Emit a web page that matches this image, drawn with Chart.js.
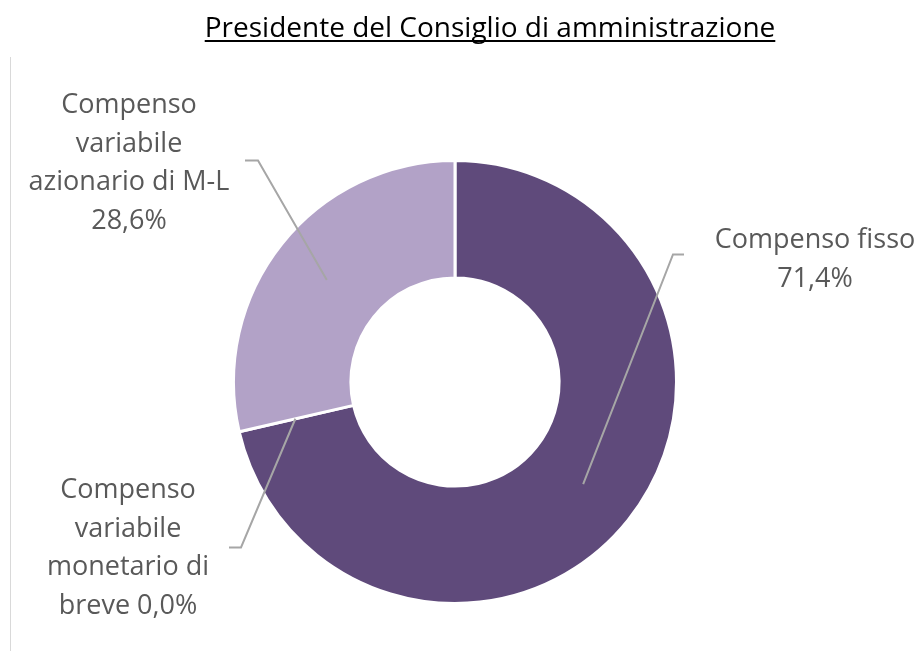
<!DOCTYPE html>
<html>
<head>
<meta charset="utf-8">
<script src="https://cdn.jsdelivr.net/npm/chart.js@4.4.1/dist/chart.umd.min.js"></script>
<style>
  html, body { margin: 0; padding: 0; background: #ffffff; }
  #wrap { width: 923px; height: 651px; position: relative; }
</style>
</head>
<body>
<div id="wrap"><canvas id="c" width="923" height="651"></canvas></div>
<script>
// ---- data ----
const chartTitle = 'Presidente del Consiglio di amministrazione';
const categories = ['Compenso fisso', 'Compenso variabile monetario di breve', 'Compenso variabile azionario di M-L'];
const values = [71.4, 0.0, 28.6];
// label text lines; {p} is replaced by the formatted value
const labelLines = [
  ['Compenso fisso', '{p}'],
  ['Compenso', 'variabile', 'monetario di', 'breve {p}'],
  ['Compenso', 'variabile', 'azionario di M-L', '{p}']
];
const sliceColors = ['#5F4A7B', '#5F4A7B', '#B2A2C7'];

// ---- layout (positions of the data labels and leader elbows) ----
const labelLayout = [
  { cx: 815, y0: 248, elbowX: 673, elbowY: 254.5, endX: 684 },
  { cx: 128, y0: 498, elbowX: 241, elbowY: 547.5, endX: 229 },
  { cx: 129, y0: 113, elbowX: 258, elbowY: 160.5, endX: 245 }
];
const fontFamily = '"Open Sans", "Noto Sans", sans-serif';

function fmt(v) { return v.toFixed(1).replace('.', ',') + '%'; }

const decorPlugin = {
  id: 'decor',
  beforeDraw(chart) {
    const ctx = chart.ctx;
    ctx.save();
    // faint frame line at left
    ctx.strokeStyle = '#D9D9D9';
    ctx.lineWidth = 1;
    ctx.beginPath();
    ctx.moveTo(10.5, 57);
    ctx.lineTo(10.5, 651);
    ctx.stroke();
    // title with underline
    ctx.font = '28px ' + fontFamily;
    ctx.fillStyle = '#000000';
    ctx.textAlign = 'center';
    ctx.textBaseline = 'alphabetic';
    const tx = 490, ty = 37;
    ctx.fillText(chartTitle, tx, ty);
    const w = ctx.measureText(chartTitle).width;
    ctx.fillRect(tx - w / 2, ty + 3, w, 2);
    ctx.restore();
  },
  afterDatasetsDraw(chart) {
    const ctx = chart.ctx;
    const meta = chart.getDatasetMeta(0);
    ctx.save();
    meta.data.forEach((arc, i) => {
      const p = arc.getProps(['x', 'y', 'startAngle', 'endAngle', 'innerRadius', 'outerRadius'], true);
      const mid = (p.startAngle + p.endAngle) / 2;
      const r = (p.innerRadius + p.outerRadius) / 2 + 1;
      const sx = p.x + Math.cos(mid) * r;
      const sy = p.y + Math.sin(mid) * r;
      const L = labelLayout[i];
      ctx.strokeStyle = '#A6A6A6';
      ctx.lineWidth = 2;
      ctx.beginPath();
      ctx.moveTo(sx, sy);
      ctx.lineTo(L.elbowX, L.elbowY);
      ctx.lineTo(L.endX, L.elbowY);
      ctx.stroke();
      ctx.font = '27px ' + fontFamily;
      ctx.fillStyle = '#595959';
      ctx.textAlign = 'center';
      ctx.textBaseline = 'alphabetic';
      labelLines[i].forEach((line, k) => {
        ctx.fillText(line.replace('{p}', fmt(values[i])), L.cx, L.y0 + k * 38.5);
      });
    });
    ctx.restore();
  }
};

new Chart(document.getElementById('c'), {
  type: 'doughnut',
  data: {
    labels: categories,
    datasets: [{
      data: values,
      backgroundColor: sliceColors,
      borderColor: '#FFFFFF',
      borderWidth: 3
    }]
  },
  options: {
    responsive: false,
    animation: false,
    events: [],
    cutout: '47%',
    layout: { padding: { left: 232, right: 245, top: 159, bottom: 46 } },
    plugins: {
      legend: { display: false },
      title: { display: false },
      tooltip: { enabled: false }
    }
  },
  plugins: [decorPlugin]
});
</script>
</body>
</html>
